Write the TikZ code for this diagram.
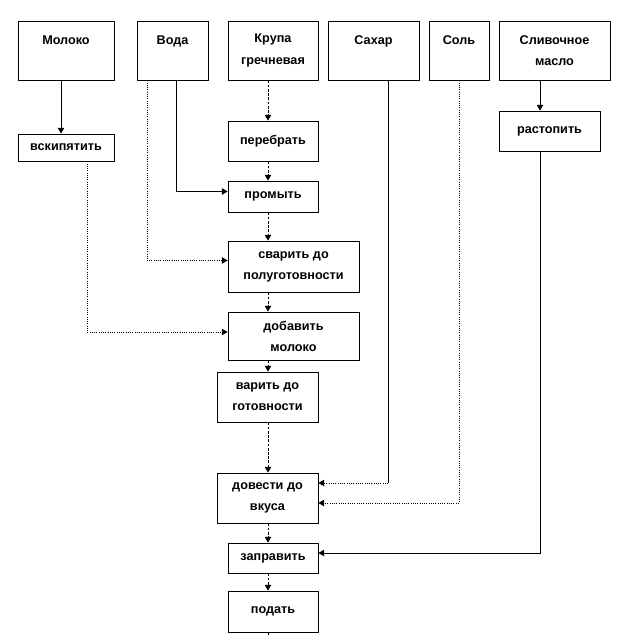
\documentclass[tikz,border=0pt]{standalone}
\usepackage{fontspec}
\setmainfont{Liberation Sans}
\usetikzlibrary{arrows.meta,calc}

\begin{document}
\begin{tikzpicture}[x=0.025cm,y=-0.025cm,
	box/.style 2 args={draw,line width=.6pt,inner sep=0pt,align=center,
		minimum width=#1*0.025cm,minimum height=#2*0.025cm,
		font=\fontsize{9}{15}\selectfont\bfseries},
	solidln/.style={line width=.6pt},
	dotln/.style={line width=.6pt,densely dotted},
	dashln/.style={line width=.6pt,dash pattern=on 2pt off 1pt},
	tip/.style={-{Triangle[length=4pt,width=4.5pt]}}]
	\useasboundingbox (0,0) rectangle (635,636);
	% products
	\node[box={96}{59}] (moloko) at (66,50.5) {Молоко\\\mbox{}};
	\node[box={71}{59}] (voda) at (172.5,50.5) {Вода\\\mbox{}};
	\node[box={90}{59}] (krupa) at (273,50.5) {Крупа\\гречневая};
	\node[box={91}{59}] (sahar) at (373.5,50.5) {Сахар\\\mbox{}};
	\node[box={60}{59}] (sol) at (459,50.5) {Соль\\\mbox{}};
	\node[box={111}{59}] (maslo) at (554.5,50.5) {Сливочное\\масло};
	% steps
	\node[box={96}{27}] (vskip) at (66,147.5) {вскипятить};
	\node[box={90}{40}] (perebrat) at (273,141) {перебрать};
	\node[box={101}{40}] (rastopit) at (549.5,131) {растопить};
	\node[box={90}{31}] (promyt) at (273,196.5) {промыть};
	\node[box={131}{51}] (svarit) at (293.5,266.5) {сварить до\\полуготовности};
	\node[box={131}{48}] (dobavit) at (293.5,336) {добавить\\молоко};
	\node[box={101}{50}] (varit) at (267.5,397) {варить до\\готовности};
	\node[box={101}{50}] (dovesti) at (267.5,498) {довести до\\вкуса};
	\node[box={90}{30}] (zapravit) at (273,558) {заправить};
	\node[box={90}{41}] (podat) at (273,611.5) {подать};
	% line positions
	\coordinate (chain) at (268,0);
	\coordinate (molX) at (61,0);
	\coordinate (vskX) at (87,0);
	\coordinate (vodaL) at (147,0);
	\coordinate (vodaR) at (176,0);
	\coordinate (sahX) at (388,0);
	\coordinate (solX) at (459,0);
	\coordinate (masX) at (540,0);
	\coordinate (out) at (268,636);
	\coordinate (sahIn) at ($(dovesti.east)+(0,-15)$);
	\coordinate (solIn) at ($(dovesti.east)+(0,5)$);
	% main chain
	\draw[dashln,tip] (krupa.south -| chain) -- (perebrat.north -| chain);
	\draw[dashln,tip] (perebrat.south -| chain) -- (promyt.north -| chain);
	\draw[dashln,tip] (promyt.south -| chain) -- (svarit.north -| chain);
	\draw[dashln,tip] (svarit.south -| chain) -- (dobavit.north -| chain);
	\draw[dashln,tip] (dobavit.south -| chain) -- (varit.north -| chain);
	\draw[dashln,tip] (varit.south -| chain) -- (dovesti.north -| chain);
	\draw[dashln,tip] (dovesti.south -| chain) -- (zapravit.north -| chain);
	\draw[dashln,tip] (zapravit.south -| chain) -- (podat.north -| chain);
	\draw[dashln] (podat.south -| chain) -- (out);
	% side inputs
	\draw[solidln,tip] (moloko.south -| molX) -- (vskip.north -| molX);
	\draw[dotln,tip] (vskip.south -| vskX) |- ($(dobavit.west)+(0,-4)$);
	\draw[dotln,tip] (voda.south -| vodaL) |- ($(svarit.west)+(0,-6)$);
	\draw[solidln,tip] (voda.south -| vodaR) |- ($(promyt.west)+(0,-5)$);
	\draw[solidln] (sahar.south -| sahX) -- (sahIn -| sahX);
	\draw[dotln,tip] (sahIn -| sahX) -- (sahIn);
	\draw[dotln,tip] (sol.south -| solX) |- (solIn);
	\draw[solidln,tip] (maslo.south -| masX) -- (rastopit.north -| masX);
	\draw[solidln,tip] (rastopit.south -| masX) |- ($(zapravit.east)+(0,-5)$);
\end{tikzpicture}
\end{document}
